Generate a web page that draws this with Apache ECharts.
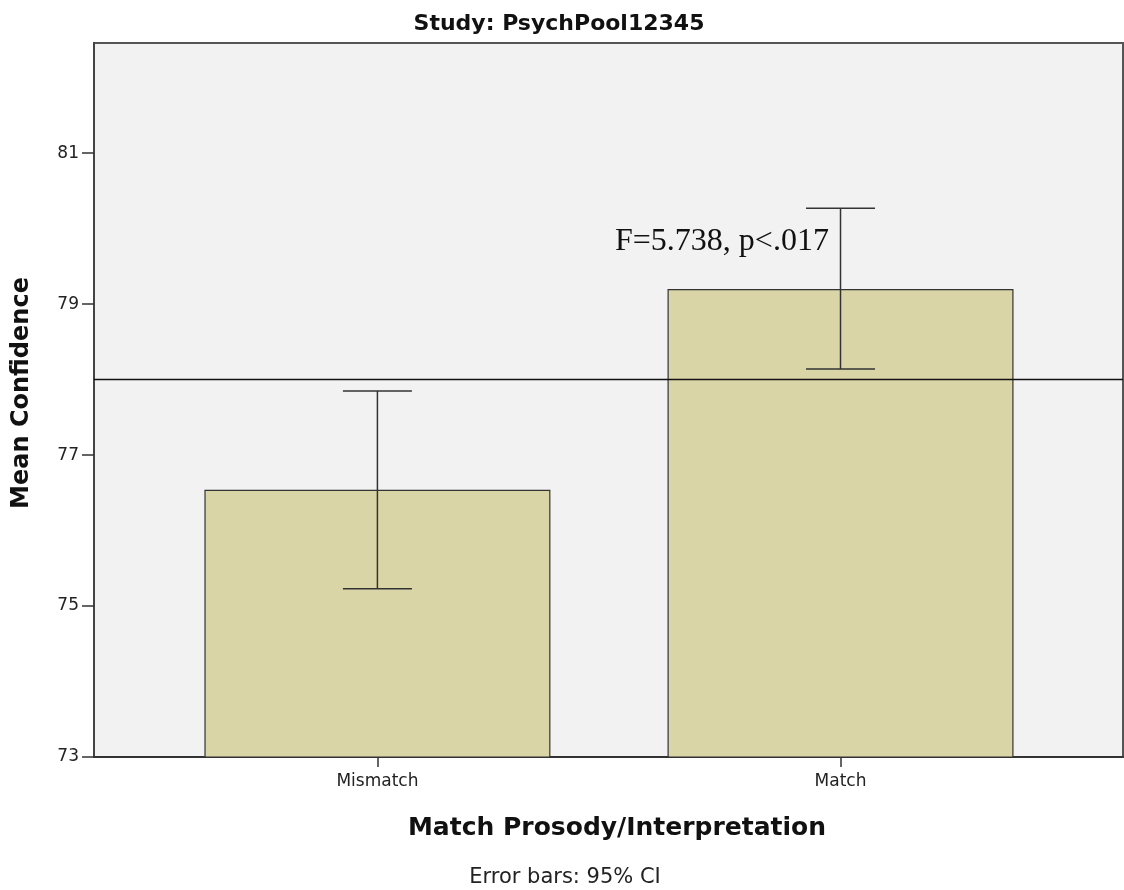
<!DOCTYPE html>
<html>
<head>
<meta charset="utf-8">
<script src="https://cdn.jsdelivr.net/npm/echarts@6/dist/echarts.min.js"></script>
<style>
html,body{margin:0;padding:0;background:#fff;}
#chart{width:1124px;height:890px;}
</style>
</head>
<body>
<div id="chart"></div>
<script>
const categories = ['Mismatch', 'Match'];
const means = [76.54, 79.20];
const ciLower = [75.23, 78.14];
const ciUpper = [77.85, 80.27];
const referenceValue = 78;
const yTicks = [73, 75, 77, 79, 81];
const titleText = 'Study: PsychPool12345';
const yAxisName = 'Mean Confidence';
const xAxisName = 'Match Prosody/Interpretation';
const footnote = 'Error bars: 95% CI';
const annotation = 'F=5.738, p<.017';

const sans = '"DejaVu Sans", sans-serif';
const chart = echarts.init(document.getElementById('chart'));

const barData = categories.map((c, i) => [i, means[i]]);
const errData = categories.map((c, i) => [i, ciLower[i], ciUpper[i]]);

chart.setOption({
  animation: false,
  backgroundColor: '#ffffff',
  title: [
    { text: titleText, left: 554, top: 8, textAlign: 'center',
      textStyle: { fontFamily: sans, fontSize: 22, fontWeight: 'bold', color: '#111' } },
    { text: xAxisName, left: 612, top: 811, textAlign: 'center',
      textStyle: { fontFamily: sans, fontSize: 25, fontWeight: 'bold', color: '#111' } },
    { text: footnote, left: 560, top: 862, textAlign: 'center',
      textStyle: { fontFamily: sans, fontSize: 21, fontWeight: 'normal', color: '#222' } }
  ],
  grid: {
    left: 94, right: 1, top: 43, bottom: 133,
    show: true, backgroundColor: '#f2f2f2', borderColor: '#555', borderWidth: 2
  },
  xAxis: {
    type: 'value', min: -0.612, max: 1.61,
    splitLine: { show: false },
    axisLine: { show: true, onZero: false, lineStyle: { color: '#333', width: 2 } },
    axisTick: { show: true, customValues: [0, 1], length: 10, lineStyle: { color: '#333', width: 1.5 } },
    axisLabel: { customValues: [0, 1], formatter: v => categories[Math.round(v)] || '',
      fontFamily: sans, fontSize: 17, color: '#222', margin: 16 }
  },
  yAxis: {
    type: 'value', min: 73, max: 82.46, interval: 2,
    name: yAxisName, nameLocation: 'middle', nameGap: 60, nameRotate: 90,
    nameTextStyle: { fontFamily: sans, fontSize: 24, fontWeight: 'bold', color: '#111', padding: [0, 0, 0, 14] },
    splitLine: { show: false },
    axisLine: { show: true, onZero: false, lineStyle: { color: '#444', width: 2 } },
    axisTick: { show: true, customValues: yTicks, length: 12, lineStyle: { color: '#333', width: 1.5 } },
    axisLabel: { customValues: yTicks,
      fontFamily: sans, fontSize: 17, color: '#222', margin: 15 }
  },
  series: [
    {
      type: 'bar', data: barData, barWidth: 346,
      itemStyle: { color: '#dad5a6', borderColor: '#333', borderWidth: 1.2 },
      markLine: {
        silent: true, symbol: 'none', label: { show: false },
        lineStyle: { color: '#111', width: 1.3, type: 'solid' },
        data: [{ yAxis: referenceValue }]
      }
    },
    {
      type: 'custom', data: errData, z: 5,
      renderItem: function (params, api) {
        const x = api.value(0);
        const lo = api.coord([x, api.value(1)]);
        const hi = api.coord([x, api.value(2)]);
        const hw = 34.5;
        const st = { stroke: '#333', lineWidth: 1.5 };
        return { type: 'group', children: [
          { type: 'line', shape: { x1: lo[0], y1: lo[1], x2: hi[0], y2: hi[1] }, style: st },
          { type: 'line', shape: { x1: hi[0] - hw, y1: hi[1], x2: hi[0] + hw, y2: hi[1] }, style: st },
          { type: 'line', shape: { x1: lo[0] - hw, y1: lo[1], x2: lo[0] + hw, y2: lo[1] }, style: st }
        ]};
      }
    }
  ],
  graphic: [
    { type: 'text', left: 615, top: 226, z: 10,
      style: { text: annotation, font: '32px "Liberation Serif", "Times New Roman", serif', fill: '#111' } }
  ]
});
</script>
</body>
</html>
